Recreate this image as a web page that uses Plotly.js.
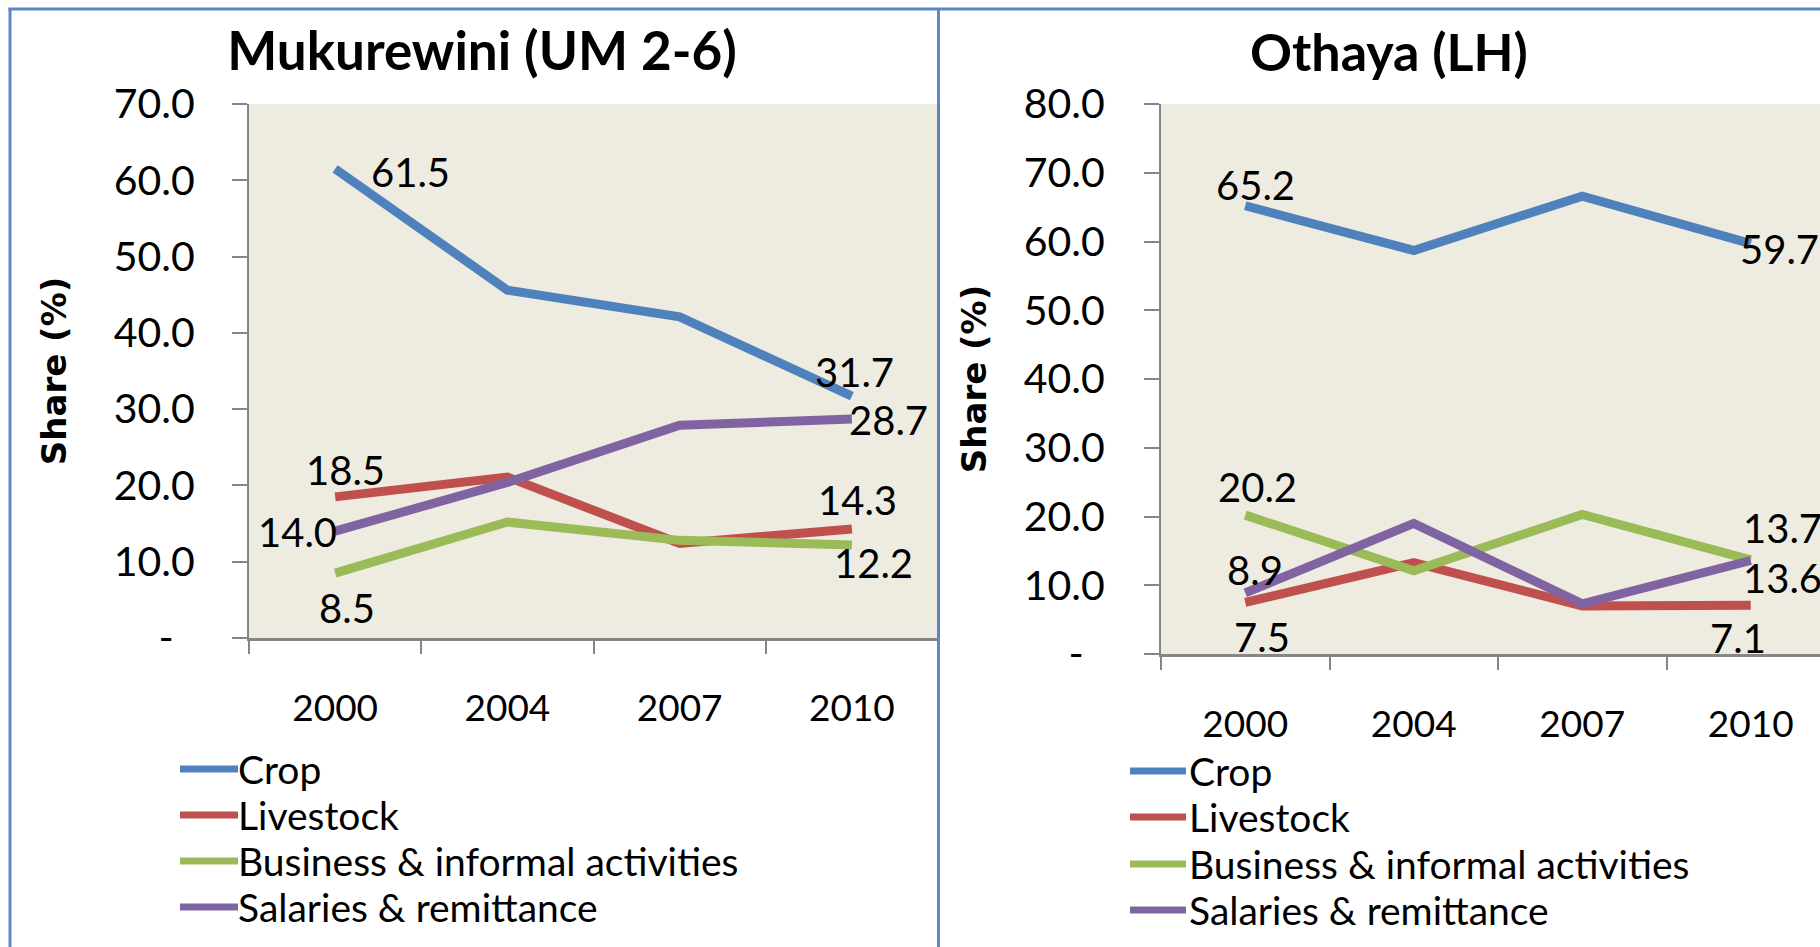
<!DOCTYPE html>
<html><head><meta charset="utf-8">
<script src="https://cdn.plot.ly/plotly-3.0.1.min.js"></script>
<style>html,body{margin:0;padding:0;overflow:hidden;background:#fff}#chart{width:1840px;height:947px}</style>
</head><body><div id="chart"></div>
<script>
// ---- data ----
const years = ['2000', '2004', '2007', '2010'];
const seriesNames = ['Crop', 'Livestock', 'Business & informal activities', 'Salaries & remittance'];

const mukurewiniTitle = 'Mukurewini (UM 2-6)';
const mukCrop      = [61.5, 45.6, 42.1, 31.7];
const mukLivestock = [18.5, 21.1, 12.4, 14.3];
const mukBusiness  = [8.5, 15.2, 12.8, 12.2];
const mukSalaries  = [14.0, 20.4, 27.9, 28.7];

const othayaTitle = 'Othaya (LH)';
const othCrop      = [65.2, 58.7, 66.6, 59.7];
const othLivestock = [7.5, 13.3, 7.0, 7.1];
const othBusiness  = [20.2, 12.1, 20.3, 13.7];
const othSalaries  = [8.9, 19.0, 7.3, 13.6];

const mukTickVals = [0, 10, 20, 30, 40, 50, 60, 70];
const mukTickText = ['-\u00a0\u00a0', '10.0', '20.0', '30.0', '40.0', '50.0', '60.0', '70.0'];
const othTickVals = [0, 10, 20, 30, 40, 50, 60, 70, 80];
const othTickText = ['-\u00a0\u00a0', '10.0', '20.0', '30.0', '40.0', '50.0', '60.0', '70.0', '80.0'];
const yTitle = 'Share (%)';

// ---- style ----
const W = 1840, H = 947;
const px = x => x / W;
const py = y => 1 - y / H;
const colors = ['#4F81BD', '#C0504D', '#9BBB59', '#8064A2'];
const FONT = 'Lato, "Open Sans", sans-serif';
const axisGrey = '#868686';
const borderBlue = '#5B87C5';
const LINE_W = 9;

// label offsets [first point, last point] as [xshift, yshift]
const mukLabelOffsets = [[[75, -3], [3, 24]], [[10, 27], [6, 29]], [[12, -35], [22, -18]], [[-38, -1], [37, -1]]];
const othLabelOffsets = [[[10, 21], [29, -5]], [[17, -35], [-13, -33]], [[12, 28], [32, 32]], [[10, 23], [32, -17]]];

// legend placement (pixels): line start, line end, text start, row centres
const mukLegendPos = {x0: 180, x1: 238, tx: 236, rows: [769, 815, 861, 907]};
const othLegendPos = {x0: 1130, x1: 1186, tx: 1187, rows: [771, 817, 864, 910]};

const mukSeries = [mukCrop, mukLivestock, mukBusiness, mukSalaries];
const othSeries = [othCrop, othLivestock, othBusiness, othSalaries];

const traces = [];
const annotations = [];
const shapes = [];
function addPanel(series, xa, ya, offsets, lg) {
  series.forEach((vals, i) => {
    traces.push({
      type: 'scatter', mode: 'lines', x: years, y: vals, name: seriesNames[i],
      xaxis: xa, yaxis: ya, showlegend: false,
      line: {color: colors[i], width: LINE_W},
      hoverinfo: 'x+y+name'
    });
    [0, vals.length - 1].forEach((idx, k) => {
      annotations.push({
        xref: xa, yref: ya, x: idx, y: vals[idx],
        text: vals[idx].toFixed(1), showarrow: false,
        xanchor: 'center', yanchor: 'middle',
        xshift: offsets[i][k][0], yshift: offsets[i][k][1],
        font: {family: FONT, size: 40, color: '#000'}
      });
    });
    // legend entry
    shapes.push({type: 'line', xref: 'paper', yref: 'paper',
      x0: px(lg.x0), x1: px(lg.x1), y0: py(lg.rows[i]), y1: py(lg.rows[i]),
      line: {color: colors[i], width: 7}});
    annotations.push({xref: 'paper', yref: 'paper', x: px(lg.tx), y: py(lg.rows[i]),
      xanchor: 'left', yanchor: 'middle', showarrow: false, text: seriesNames[i],
      font: {family: FONT, size: 39, color: '#000'}});
  });
}
addPanel(mukSeries, 'x', 'y', mukLabelOffsets, mukLegendPos);
addPanel(othSeries, 'x2', 'y2', othLabelOffsets, othLegendPos);

annotations.push({
  xref: 'paper', yref: 'paper', x: px(1389), y: py(51), xanchor: 'center', yanchor: 'middle',
  text: othayaTitle, showarrow: false,
  font: {family: FONT, size: 52, color: '#000', weight: 'bold'}
});

function xAxis(domain, anchor) {
  return {
    domain: domain, anchor: anchor, type: 'category', range: [-0.5, 3.5],
    tickson: 'boundaries', ticks: 'outside', ticklen: 13, tickwidth: 1.5, tickcolor: axisGrey,
    showline: true, linecolor: axisGrey, linewidth: 2.5, showgrid: false, zeroline: false,
    tickfont: {family: FONT, size: 37, color: '#000'}, ticklabelstandoff: 36, fixedrange: true
  };
}
function yAxis(domain, anchor, range, vals, text, labelStandoff, titleStandoff) {
  return {
    domain: domain, anchor: anchor, range: range, tickmode: 'array', tickvals: vals, ticktext: text,
    ticks: 'outside', ticklen: 15, tickwidth: 1.5, tickcolor: axisGrey,
    showline: true, linecolor: axisGrey, linewidth: 2, showgrid: false, zeroline: false,
    tickfont: {family: FONT, size: 41, color: '#000'}, ticklabelstandoff: labelStandoff, fixedrange: true,
    title: {text: yTitle, standoff: titleStandoff, font: {family: '"DejaVu Sans", Verdana, sans-serif', size: 34, color: '#000', weight: 'bold'}}
  };
}

shapes.push(
  {type: 'line', xref: 'paper', yref: 'paper', x0: px(8.5), x1: 1.02, y0: py(9), y1: py(9), line: {color: borderBlue, width: 3}},
  {type: 'line', xref: 'paper', yref: 'paper', x0: px(10), x1: px(10), y0: py(8), y1: -0.05, line: {color: borderBlue, width: 3}},
  {type: 'line', xref: 'paper', yref: 'paper', x0: px(938.5), x1: px(938.5), y0: py(8), y1: -0.05, line: {color: borderBlue, width: 3}}
);

const layout = {
  width: W, height: H, margin: {l: 0, r: 0, t: 0, b: 0},
  paper_bgcolor: '#FFFFFF', plot_bgcolor: '#EEECE1',
  font: {family: FONT, color: '#000'},
  title: {text: mukurewiniTitle, x: px(482), xanchor: 'center', y: py(51), yanchor: 'middle',
          font: {family: FONT, size: 53, color: '#000', weight: 'bold'}},
  xaxis: xAxis([px(249), px(938)], 'y'),
  yaxis: yAxis([py(638), py(104)], 'x', [0, 70], mukTickVals, mukTickText, 29, 37),
  xaxis2: xAxis([px(1161), px(1835)], 'y2'),
  yaxis2: yAxis([py(654), py(104)], 'x2', [0, 80], othTickVals, othTickText, 31, 27),
  showlegend: false,
  annotations: annotations,
  shapes: shapes
};

Plotly.newPlot('chart', traces, layout, {displayModeBar: false, responsive: false});
</script></body></html>
